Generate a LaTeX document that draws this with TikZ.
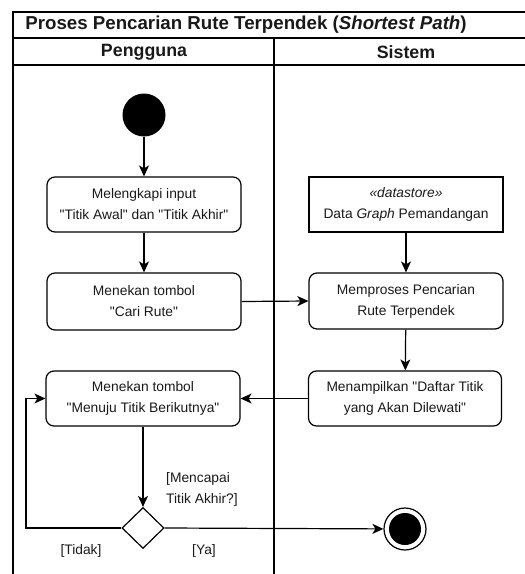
\documentclass[tikz,border=0pt]{standalone}
\usepackage{fontspec}
\setmainfont{Liberation Sans}
\newfontfamily\lsans{Liberation Sans}
\usetikzlibrary{shapes.geometric,arrows.meta}
\begin{document}
\begin{tikzpicture}[x=1pt,y=-1pt,
  every node/.style={font=\lsans\fontsize{13.8pt}{21pt}\selectfont, text=black!90},
  act/.style={draw, line width=1.2pt, rounded corners=8pt, minimum width=194pt, minimum height=55pt, align=center, inner sep=0pt},
  store/.style={draw, line width=1.1pt, minimum width=194pt, minimum height=55pt, align=center, inner sep=0pt},
  hdr/.style={font=\lsans\fontsize{17.8pt}{21pt}\selectfont\bfseries},
  arr/.style={line width=1.2pt, -{Stealth[length=11pt,width=10pt,inset=3pt]}},
  frame/.style={line width=1.4pt}
]
\useasboundingbox (0,0) rectangle (525,574);
\clip (0,0) rectangle (525,574);
% frame
\draw[frame] (13,580) -- (13,12) -- (530,12);
\draw[frame] (13,38) -- (530,38);
\draw[frame] (13,65) -- (530,65);
\draw[frame] (274,38) -- (274,580);
\node[hdr, font=\lsans\fontsize{18.7pt}{21pt}\selectfont\bfseries] (title) at (246,24.5) {Proses Pencarian Rute Terpendek (\textit{Shortest Path})};
\node[hdr] (h1) at (144,52.5) {Pengguna};
\node[hdr] (h2) at (406,52.5) {Sistem};
% nodes
\node[circle, fill=black, minimum size=43pt, inner sep=0pt] (start) at (144,115) {};
\node[act] (a1) at (144,204.5) {Melengkapi input\\"Titik Awal" dan "Titik Akhir"};
\node[act, minimum height=57pt] (a2) at (144,301.5) {Menekan tombol\\"Cari Rute"};
\node[store] (ds) at (406,204.5) {\textit{«datastore»}\\Data \textit{Graph} Pemandangan};
\node[act, minimum height=56pt] (a3) at (406,301) {Memproses Pencarian\\Rute Terpendek};
\node[act, minimum width=193pt] (a4) at (405,398.5) {Menampilkan "Daftar Titik\\yang Akan Dilewati"};
\node[act] (a5) at (143,398.5) {Menekan tombol\\"Menuju Titik Berikutnya"};
\node[diamond, draw, line width=1.2pt, minimum width=42pt, minimum height=41pt, inner sep=0pt, aspect=1] (dec) at (143,528) {};
\node[circle, draw, line width=1.2pt, minimum size=42pt, inner sep=0pt] (end) at (405,529) {};
\node[circle, fill=black, minimum size=32pt, inner sep=0pt] (endin) at (405,529) {};
\coordinate (loop) at (26,528);
% connectors
\draw[arr] (start) -- (a1);
\draw[arr] (a1) -- (a2);
\draw[arr] (a2.east) -- (a3.west);
\draw[arr] (ds) -- (a3);
\draw[arr] (a3) -- (a4);
\draw[arr] (a4.west) -- (a5.east);
\draw[arr] (a5) -- (dec);
\draw[arr] (dec.east) -- (end);
\draw[arr] (dec.west) -- (loop) |- (a5.west);
% labels
\node[anchor=west, align=left, inner sep=0pt] (l1) at (166,489) {[Mencapai\\Titik Akhir?]};
\node (l2) at (81,551) {[Tidak]};
\node (l3) at (204,551) {[Ya]};
\end{tikzpicture}
\end{document}
